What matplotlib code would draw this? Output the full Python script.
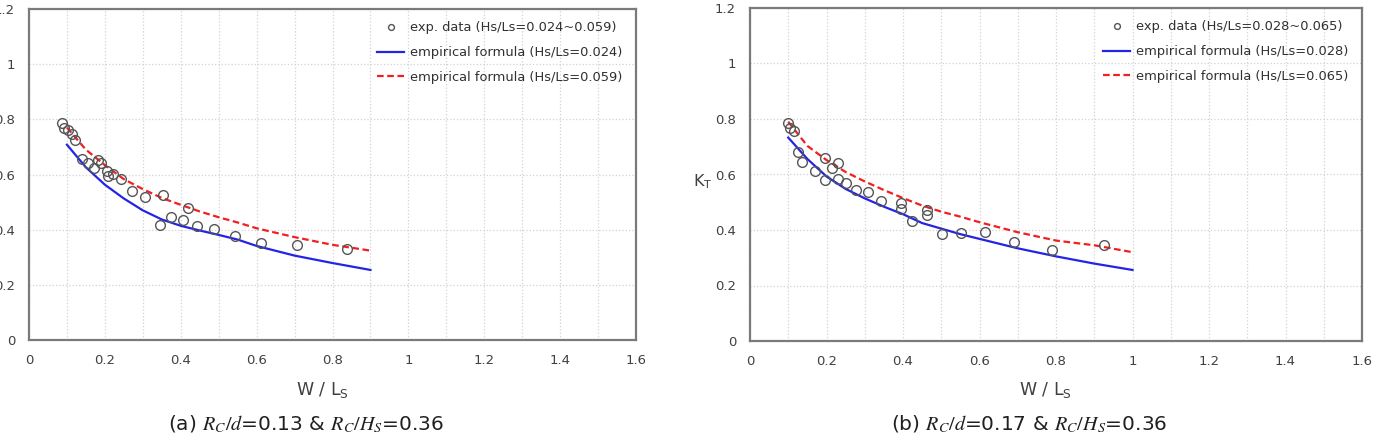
import numpy as np
import matplotlib
matplotlib.use("Agg")
import matplotlib.pyplot as plt
from matplotlib.ticker import MultipleLocator, FuncFormatter

# ---- panel (a) ----
xa_exp = [0.086, 0.091, 0.104, 0.113, 0.121, 0.139, 0.156, 0.172, 0.181, 0.189,
          0.205, 0.209, 0.222, 0.243, 0.271, 0.306, 0.346, 0.352, 0.375, 0.405,
          0.418, 0.442, 0.488, 0.543, 0.611, 0.706, 0.838]
ya_exp = [0.785, 0.767, 0.761, 0.746, 0.725, 0.658, 0.640, 0.622, 0.651, 0.643,
          0.614, 0.596, 0.603, 0.583, 0.541, 0.517, 0.417, 0.525, 0.447, 0.435,
          0.477, 0.413, 0.404, 0.376, 0.351, 0.343, 0.330]
xa_fit = [0.10, 0.15, 0.20, 0.25, 0.30, 0.35, 0.40, 0.45, 0.50, 0.55, 0.60, 0.70, 0.80, 0.90]
ya_low = [0.708, 0.626, 0.563, 0.513, 0.470, 0.437, 0.414, 0.397, 0.381, 0.364,
          0.341, 0.306, 0.279, 0.254]
ya_high = [0.770, 0.690, 0.634, 0.583, 0.547, 0.515, 0.490, 0.466, 0.445, 0.426,
           0.405, 0.373, 0.345, 0.324]

# ---- panel (b) ----
xb_exp = [0.0985, 0.105, 0.116, 0.125, 0.135, 0.170, 0.196, 0.196, 0.214, 0.231,
          0.231, 0.250, 0.276, 0.308, 0.342, 0.395, 0.395, 0.424, 0.462, 0.462,
          0.501, 0.552, 0.614, 0.691, 0.790, 0.926]
yb_exp = [0.787, 0.766, 0.758, 0.682, 0.646, 0.613, 0.658, 0.580, 0.622, 0.643,
          0.584, 0.570, 0.544, 0.538, 0.506, 0.496, 0.476, 0.434, 0.472, 0.454,
          0.386, 0.389, 0.392, 0.358, 0.329, 0.346]
xb_fit = [0.10, 0.15, 0.20, 0.25, 0.30, 0.35, 0.40, 0.45, 0.50, 0.55, 0.60, 0.70, 0.80, 0.90, 1.00]
yb_low = [0.733, 0.656, 0.593, 0.548, 0.514, 0.484, 0.457, 0.425, 0.405, 0.385,
          0.368, 0.334, 0.305, 0.279, 0.256]
yb_high = [0.790, 0.703, 0.652, 0.609, 0.575, 0.544, 0.515, 0.488, 0.466, 0.448,
           0.428, 0.392, 0.362, 0.345, 0.320]

panels = [
    (xa_exp, ya_exp, xa_fit, ya_low, ya_high, "0.024", "0.059",
     [29, 340, 636, 9], 322, 306, "(a) $R_C/d$=0.13 & $R_C/H_S$=0.36", False),
    (xb_exp, yb_exp, xb_fit, yb_low, yb_high, "0.028", "0.065",
     [750, 341, 1362, 8], 1045, 1029, "(b) $R_C/d$=0.17 & $R_C/H_S$=0.36", True),
]

W, H = 1376, 438
fig = plt.figure(figsize=(W / 100, H / 100), dpi=100)
txtc = "#404040"
fmt = FuncFormatter(lambda v, p: "%g" % round(v, 2))

for (xe, ye, xf, yl, yh, lo, hi, box, xlab_x, cap_x, caption, kt) in panels:
    x0, yb, x1, yt = box
    ax = fig.add_axes([x0 / W, (H - yb) / H, (x1 - x0) / W, (yb - yt) / H])
    ax.plot(xe, ye, 'o', mfc='none', mec='#555555', mew=1.0, ms=7,
            label="exp. data (Hs/Ls=%s~%s)" % (lo, hi), zorder=3)
    ax.plot(xf, yl, '-', color='#2424e6', lw=1.6,
            label="empirical formula (Hs/Ls=%s)" % lo)
    ax.plot(xf, yh, '--', color='#f02020', lw=1.6, dashes=(3, 1.6),
            label="empirical formula (Hs/Ls=%s)" % hi)
    ax.set_xlim(0, 1.6)
    ax.set_ylim(0, 1.2)
    ax.xaxis.set_major_locator(MultipleLocator(0.2))
    ax.xaxis.set_minor_locator(MultipleLocator(0.1))
    ax.yaxis.set_major_locator(MultipleLocator(0.2))
    ax.xaxis.set_major_formatter(fmt)
    ax.yaxis.set_major_formatter(fmt)
    ax.grid(True, which='both', axis='x', ls=':', color='#d2d2d2', lw=0.9)
    ax.grid(True, which='major', axis='y', ls=':', color='#d2d2d2', lw=0.9)
    ax.set_axisbelow(True)
    ax.tick_params(which='both', length=0, pad=10, labelsize=9.5, labelcolor=txtc)
    for s in ax.spines.values():
        s.set_color('#7a7a7a')
        s.set_linewidth(1.6)
    ax.set_xlabel(r"W / L$_\mathrm{S}$", fontsize=12.5, color=txtc)
    ax.xaxis.set_label_coords((xlab_x - x0) / (x1 - x0), -(390 - yb) / (yb - yt))
    ax.xaxis.label.set_va('center')
    if kt:
        ax.set_ylabel(r"K$_\mathrm{T}$", fontsize=11.5, color=txtc, rotation=0)
        ax.yaxis.set_label_coords(-(x0 - 703) / (x1 - x0), (yb - 182) / (yb - yt))
        ax.yaxis.label.set_va('center')
        ax.yaxis.label.set_ha('center')
    leg = ax.legend(loc='upper right', bbox_to_anchor=(0.997, 0.998), frameon=False,
                    fontsize=9.4, handlelength=2.05, handletextpad=0.45,
                    labelspacing=0.9, markerscale=0.6)
    for t in leg.get_texts():
        t.set_color('#303030')

    fig.text(cap_x / W, (H - 424) / H, caption, ha='center', va='center',
             fontsize=14.5, color='#202020', math_fontfamily='stix')

fig.savefig("out.png", dpi=100)
